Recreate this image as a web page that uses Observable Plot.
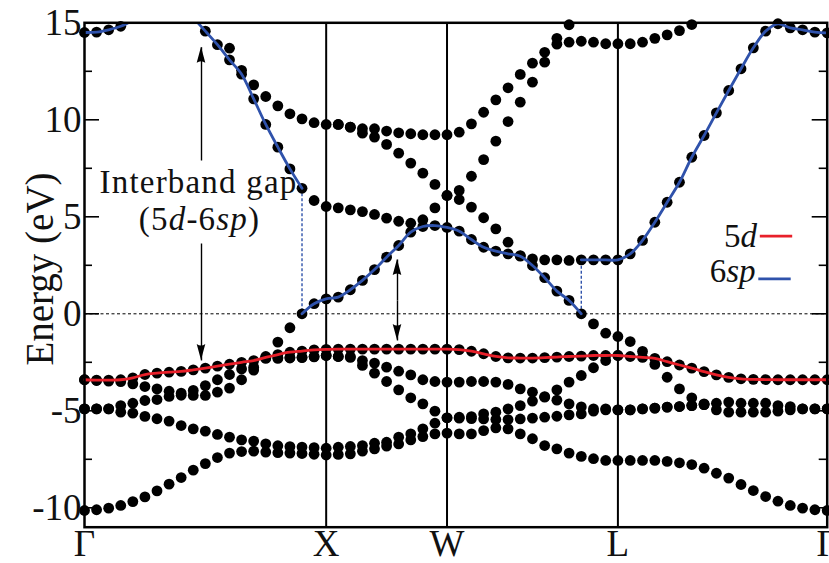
<!DOCTYPE html>
<html><head><meta charset="utf-8">
<script src="https://cdn.jsdelivr.net/npm/d3@7"></script>
<script src="https://cdn.jsdelivr.net/npm/@observablehq/plot@0.6"></script>
<style>
body{margin:0;background:#fff}
svg{display:block}
svg text, svg tspan{font-family:"Liberation Serif","DejaVu Serif",serif !important}
</style>
</head><body><div id="chart"></div>
<script>
const nil = n => Array(n).fill(null);

// k-path: Γ–X–W–L–Γ
const pathLabels = ["Γ", "X", "W", "L", "Γ"];
const segmentLengths = [1, 0.5, 0.7071, 0.8660];
const segmentSteps = [20, 10, 14, 17];
const yTicks = [-10, -5, 0, 5, 10, 15];
const yMinorTicks = [-7.5, -2.5, 2.5, 7.5, 12.5];

// band energies (eV) at each of the 62 k-points: Γ-X (21) | X-W (10) | W-L (14) | L-Γ (17)
const bandS = [
  -10.14, -10.1, -10.02, -9.88, -9.68, -9.44, -9.13, -8.78, -8.44, -8.06, -7.72, -7.41, -7.18, -7.1, -7.08, -7.13, -7.16, -7.18, -7.2, -7.24, -7.28,
  -7.25, -7.22, -7.08, -6.96, -6.82, -6.71, -6.5, -6.33, -6.19, -6.15,
  -6.19, -6.19, -6.02, -5.88, -5.93, -6.19, -6.44, -6.79, -6.96, -7.18, -7.35, -7.47, -7.56, -7.56,
  -7.56, -7.56, -7.56, -7.61, -7.68, -7.77, -7.96, -8.22, -8.47, -8.8, -9.11, -9.42, -9.66, -9.88, -10.02, -10.1, -10.14];
const bandD1 = [
  -4.9, -4.9, -4.9, -5.07, -5.12, -5.29, -5.41, -5.53, -5.76, -5.93, -6.05, -6.22, -6.36, -6.5, -6.56, -6.7, -6.8, -6.85, -6.87, -6.9, -6.93,
  -6.88, -6.84, -6.79, -6.67, -6.62, -6.36, -6.19, -5.93, -5.64, -5.36,
  -5.38, -5.4, -5.42, -5.45, -5.45, -5.42, -5.38, -5.33, -5.28, -5.21, -5.16, -5.02, -4.95, -4.95,
  -4.95, -4.9, -4.86, -4.81, -4.78, -4.73, -4.68, -4.95, -5.07, -5.07, -5.07, -5.07, -5.02, -4.95, -4.9, -4.9, -4.9];
const bandD2 = [
  -4.9, -4.9, -4.9, -4.73, -4.61, -4.47, -4.42, -4.26, -4.2, -4.21, -4.21, -4.04, -3.83, -3.4, -2.9, -2.3, -2.3, -2.28, -2.26, -2.22, -2.15,
  -2.2, -2.25, -2.66, -3.06, -3.49, -3.92, -4.33, -4.64, -5.02, -5.36,
  -5.33, -5.3, -5.16, -5.07, -4.9, -4.73, -4.5, -4.3, -3.92, -3.52, -3.18, -2.78, -2.41, -2.15,
  ...nil(17)];
const bandD3 = [
  -3.4, -3.44, -3.47, -3.5, -3.61, -3.75, -3.87, -3.99, -4.09, -3.95, -3.7, -3.4, -3.13, -2.84, -2.75, -2.2, -2.25, -2.25, -2.24, -2.2, -2.15,
  -2.2, -2.2, -2.41, -2.54, -2.75, -2.96, -3.15, -3.4, -3.49, -3.52,
  -3.52, -3.49, -3.49, -3.52, -3.64, -3.87, -4.04, -4.27, -4.45, -4.64, -4.8, -4.9, -4.9, -4.95,
  -4.95, -4.9, -4.86, -4.81, -4.78, -4.73, -4.68, -4.61, -4.55, -4.61, -4.61, -4.61, -4.73, -4.78, -4.9, -4.9, -4.9];
const band5d = [
  -3.4, -3.42, -3.42, -3.4, -3.3, -3.13, -3.06, -3.01, -2.97, -2.89, -2.8, -2.7, -2.6, -2.5, -2.41, -2.25, -2.1, -1.98, -1.92, -1.86, -1.83,
  -1.82, -1.82, -1.82, -1.82, -1.82, -1.82, -1.82, -1.82, -1.82, -1.82,
  -1.85, -1.93, -2.06, -2.2, -2.27, -2.28, -2.28, -2.26, -2.23, -2.2, -2.18, -2.15, -2.15, -2.15,
  -2.2, -2.25, -2.3, -2.47, -2.64, -2.8, -2.98, -3.15, -3.28, -3.35, -3.38, -3.39, -3.4, -3.4, -3.4, -3.4, -3.4];
const band6sp = [
  ...nil(16), -1.46, -0.72, 0, 0.52, 0.77,
  0.86, 1.24, 1.72, 2.28, 2.92, 3.52, 4.21, 4.5, 4.55, 4.45,
  4.26, 3.83, 3.43, 3.23, 3.09, 2.97, 2.49, 1.86, 1.17, 0.69, 0, -0.52, -1.0, -1.17,
  -1.43, -1.94, -2.61, -3.27, -3.87, -4.33, -4.64, ...nil(10)];
const bandC = [
  ...nil(9), 15.27, 14.57, 13.87, 13.09, 12.35, 11.08, 9.76, 8.59, 7.47, 6.47, 5.84, 5.53,
  5.46, 5.36, 5.27, 5.12, 4.93, 4.77, 4.67, 4.85, 5.46, 6.1,
  5.89, 5.5, 4.95, 4.38, 3.69, 3.0, 2.83, 2.78, 2.78, 2.75, 2.78, 2.78, 2.78, 2.78,
  3.09, 3.78, 4.72, 5.75, 6.78, 8.07, 9.19, 10.36, 11.51, 12.63, 13.71, 14.57, 14.95, 14.74, 14.64, 14.52, 14.48];
const bandG = [
  14.5, 14.52, 14.64, 14.82, 15.12, ...nil(16),
  ...nil(10), ...nil(14), ...nil(17)];
const bandA = [
  ...nil(12), 13.69, 12.55, 11.8, 11.2, 10.72, 10.31, 10.05, 9.85, 9.76,
  9.76, 9.62, 9.54, 9.54, 9.42, 9.33, 9.28, 9.23, 9.23, 9.23,
  9.36, 9.79, 10.39, 11.03, 11.65, 12.34, 12.92, 13.48, 14.2, 14.9, ...nil(4),
  ...nil(17)];
const bandB = [
  ...nil(21),
  9.76, 9.62, 9.31, 9.11, 8.73, 8.28, 7.77, 7.25, 6.67, 6.1,
  6.36, 7.09, 7.95, 8.9, 9.91, 10.91, 11.94, 12.97, 13.9, 14.0, 14.05, 14.0, 13.92, 13.92,
  13.92, 14.0, 14.2, 14.38, 14.6, 14.91, ...nil(11)];

// highlighted 6sp path: pieces along bands, and the two dotted drops (k-point indices)
const spPieces = [["G", 0, 4], ["C", 9, 18], ["6sp", 18, 41], ["C", 41, 61]];
const spDrops = [[18, "C", "6sp"], [41, "6sp", "C"]];

// ---------- derived ----------
const bands = {S: bandS, D1: bandD1, D2: bandD2, D3: bandD3, "5d": band5d, "6sp": band6sp, C: bandC, G: bandG, A: bandA, B: bandB};
const kTicks = [0];
segmentLengths.forEach(l => kTicks.push(kTicks[kTicks.length - 1] + l));
const kPts = [0];
segmentLengths.forEach((l, s) => { for (let j = 1; j <= segmentSteps[s]; j++) kPts.push(kTicks[s] + l * j / segmentSteps[s]); });
const kMax = kTicks[kTicks.length - 1];

const dots = [];
for (const arr of Object.values(bands)) arr.forEach((e, i) => { if (e != null && e <= 15 && e >= -11) dots.push({k: kPts[i], e}); });
const redLine = band5d.map((e, i) => ({k: kPts[i], e}));
const blueLine = [];
spPieces.forEach(([b, a, z], p) => { for (let i = a; i <= z; i++) blueLine.push({k: kPts[i], e: bands[b][i], p}); });
const blueDrops = spDrops.map(([i, b1, b2]) => ({k: kPts[i], e1: bands[b1][i], e2: bands[b2][i]}));

// layout helpers (pixel → data)
const W = 829, H = 563, mL = 84, mR = 2.3, mT = 22.3, mB = 36.3;
const pxK = (W - mL - mR) / kMax, pxE = (H - mT - mB) / 26;
const kx = px => (px - mL) / pxK, ey = py => 15 - (py - mT) / pxE;

const arrows = [
  {x: kx(201), from: ey(160), to: ey(46.7)},
  {x: kx(201), from: ey(243), to: ey(360)},
  {x: kx(397), from: ey(300), to: ey(259)},
  {x: kx(397), from: ey(300), to: ey(340)}
];
const notes = [
  {x: kx(198), y: ey(182), t: "Interband gap"},
  {x: kx(199), y: ey(219), t: "(5*d*-6*sp*)"}
];
const red = "#e8202a", blue = "#2f52ab";
const legend = [
  {x: kx(756.5), y: ey(236), t: "5*d*", c: red, yl: ey(235.7)},
  {x: kx(755), y: ey(271), t: "6*sp*", c: blue, yl: ey(278.3)}
];

const chart = Plot.plot({
  width: W, height: H, marginLeft: mL, marginRight: mR, marginTop: mT, marginBottom: mB,
  x: {domain: [0, kMax]}, y: {domain: [-11, 15]},
  style: "font-family: 'Liberation Serif', serif; background: #fff; color: #111;",
  marks: [
    Plot.ruleX(kTicks.slice(1, -1), {stroke: "#000", strokeWidth: 2}),
    Plot.ruleY([0], {stroke: "#000", strokeWidth: 1, strokeDasharray: "3,2.5"}),
    Plot.link(blueDrops, {x1: "k", x2: "k", y1: "e1", y2: "e2", stroke: blue, strokeWidth: 1.4, strokeDasharray: "3,2"}),
    Plot.dot(dots, {x: "k", y: "e", r: 5.4, fill: "#000"}),
    Plot.line(redLine, {x: "k", y: "e", stroke: red, strokeWidth: 2.8, curve: "catmull-rom"}),
    Plot.line(blueLine, {x: "k", y: "e", z: "p", stroke: blue, strokeWidth: 2.8, curve: "catmull-rom", clip: true}),
    Plot.link(arrows, {x1: "x", x2: "x", y1: "from", y2: "to", stroke: "#000", strokeWidth: 1.4}),
    Plot.text(notes, {x: "x", y: "y", text: "t", fontSize: 33, textAnchor: "middle", fill: "#111"}),
    Plot.text(legend, {x: "x", y: "y", text: "t", fontSize: 33, textAnchor: "end", fill: "#111"}),
    Plot.link(legend, {x1: d => d.x + kx(mL + 2.8), x2: d => d.x + kx(mL + 35.2), y1: "yl", y2: "yl", stroke: "c", strokeWidth: 2.8}),
    Plot.ruleY(yTicks, {x1: 0, x2: kx(mL + 15), stroke: "#000", strokeWidth: 1.6}),
    Plot.ruleY(yMinorTicks, {x1: 0, x2: kx(mL + 8), stroke: "#000", strokeWidth: 1.6}),
    Plot.ruleY(yTicks, {x1: kx(W - mR - 15), x2: kMax, stroke: "#000", strokeWidth: 1.6}),
    Plot.ruleY(yMinorTicks, {x1: kx(W - mR - 8), x2: kMax, stroke: "#000", strokeWidth: 1.6}),
    Plot.axisY(yTicks, {anchor: "left", tickSize: 0, tickPadding: 3, fontSize: 37, tickFormat: d => String(d), label: null}),
    Plot.axisX(kTicks, {anchor: "bottom", tickSize: 0, tickPadding: 3, fontSize: 37, tickFormat: d => pathLabels[kTicks.indexOf(d)], label: null}),
    Plot.text(["Energy (eV)"], {frameAnchor: "left", dx: -44, dy: -6, rotate: -90, textAnchor: "middle", fontSize: 39, fill: "#111"}),
    Plot.frame({stroke: "#000", strokeWidth: 2.5})
  ]
});

// italic parts, letter spacing and filled arrowheads
const svg = d3.select(chart);
svg.selectAll("text").each(function () {
  const s = this.textContent;
  if (s === "Interband gap") d3.select(this).style("letter-spacing", "1.2px");
  if (!s.includes("*")) return;
  const sel = d3.select(this); sel.text(null);
  if (s.startsWith("(")) sel.style("letter-spacing", "1.2px");
  s.split("*").forEach((part, j) => { if (part) sel.append("tspan").attr("font-style", j % 2 ? "italic" : null).text(part); });
});
const sx = chart.scale("x"), sy = chart.scale("y");
arrows.forEach(a => {
  const x = sx.apply(a.x), yt = sy.apply(a.to), yf = sy.apply(a.from);
  const dir = yt < yf ? 1 : -1, L = 16, hw = 4.3;
  svg.append("path").attr("d", `M${x},${yt}L${x - hw},${yt + dir * L}Q${x},${yt + dir * (L - 3)} ${x + hw},${yt + dir * L}Z`).attr("fill", "#000");
});
document.getElementById("chart").appendChild(chart);
</script></body></html>
